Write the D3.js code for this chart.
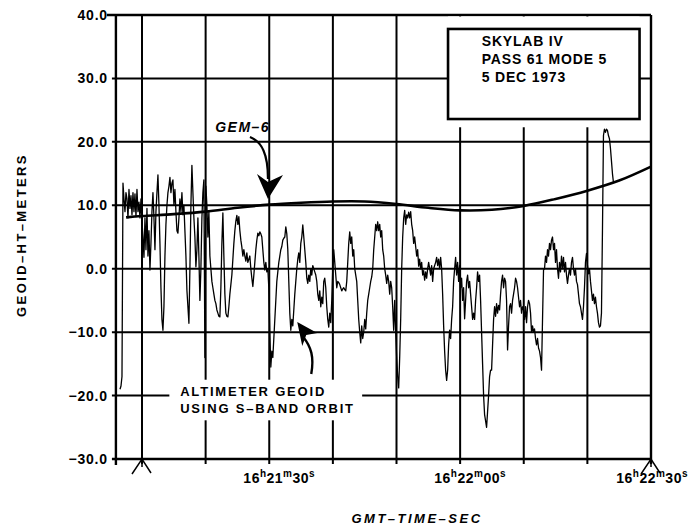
<!DOCTYPE html>
<html><head><meta charset="utf-8">
<script src="https://cdn.jsdelivr.net/npm/d3@7"></script>
<style>body{margin:0;background:#fff}svg{display:block}</style>
</head><body>
<svg id="c" width="692" height="529"></svg>
<script>
// ---------------- data ----------------
const yTicks = [40, 30, 20, 10, 0, -10, -20, -30];            // GEOID height, meters
const gridTimes = [10, 20, 30, 40, 50, 60, 70, 80, 90];        // seconds after 16h21m00s GMT
const labelTimes = [30, 60, 90];
const baseClock = [16, 21, 0];                                 // h, m, s
const timeStart = 5.9;                                         // left edge of plot (s after 16h21m00s)

const gemTimes  = [7.5, 10, 15, 20, 25, 30, 35, 40, 45, 50, 55, 60, 65, 70, 75, 80, 85, 90];
const gemValues = [8.1, 8.3, 8.6, 9.0, 9.6, 10.1, 10.4, 10.6, 10.6, 10.2, 9.6, 9.2, 9.3, 9.9, 11.0, 12.3, 13.9, 16.1];

const altStart = 6.54;     // s after 16h21m00s of first altimeter sample
const altStep = 0.157;     // s between samples
const altValues = [
-19,-18.5,-17,13.5,11,9,12,11,8,12.5,
9.5,11.5,8.5,12,9,11.8,8.2,12.5,9,10.5,
8,11,7.5,5,1.8,8,3,9.5,2,6,
-0.2,4,9,12,8,3,9,12,14.8,10,
4,-3,-8,-9.7,-6,2,7,10,12,13,
14.4,12,13.5,14,10,12.5,9,6,5.6,8,
11,9,12,8.5,10,6,2,-3.4,-6,-8.6,
0,10,16.3,12,8,5,0.3,3,8,2,
-5,0,8,12,14,-14,13,10,5,9,
2,0,-2,-3,-4,-5,-5.5,-6.5,-7,-7.5,
-7.6,-3,4,8.8,2,-4,-7,-7.5,-7.6,-6,
-4,-2.5,-1,1.5,4,6,7.5,8.4,7,8.2,
6,4.5,3.4,2,3,2,1.2,2.5,1,1.5,
2,0,-1.5,-2.8,-1,1,3,4.5,5.6,5.2,
5.8,5.5,5,3,1,-0.2,1,-0.5,0,-3,
-10,-15.5,-13,-14,-11,-8,-5,-2,-0.5,1,
2,3,3.5,4.5,4.8,5,6.6,5.5,3,-2,
-7,-9.7,-8,-9,-6.5,-4,-2,0,1.5,2.5,
1,4,5,6.9,5,3,1,-1.5,-2.3,-1,
-2,0,-1,0.5,0,-0.5,-1,-2,-4,-5,
-3.5,-6,-4.5,-5.5,-2,-1.5,-3,-6,-8,-9.2,
-7,-8.5,-5,0,3,1,-1,-3,-2,-2.2,
-2.5,-3,-3.5,-3.2,-3,-3.3,-3.5,-2,1,4,
5.8,4,5,2,3,0,-1,-2,-5,-8,
-10,-11.7,-9,-11,-10,-8,-9.5,-7,-5,-4,
-3,-2,-1.3,0,3,5,7,6,7.4,6,
7,5,6,3,2,0,-1,-2.3,-1,-2,
-4,-2,-3,-6,-9.7,-5,-10,-14,-17,-18.8,
-14,-8,0,5,8,9.2,7,8.5,8,8.9,
8,9,7,6,4,5,3.5,2,3,0.4,
1.5,0,1,-1,-0.3,-1.8,-0.5,-1.5,0,1,
0,-1,0.5,-2,0,0.5,1,1.8,0.5,1.5,
0,1.8,0,-4,-9,-13,-16,-17.6,-16,-12,
-9.7,-11,-8,-6,-2,0,1.8,-1,1,-2,
0.5,-3,-1.5,-5,-3,-7.9,-5,-2,-1,-3,
-2,-4,-6,-8,-7,-8,-5,-3,-0.5,-2,
-1,-5,-10,-15,-20,-23,-24,-25,-22.5,-20,
-17,-16,-16,-12,-8,-6,-7.5,-5.5,-7,-5.8,
-6.5,-4,-2,-1,-3,-1.5,-2,-5,-12.8,-9,
-6,-5.5,-7,-5,-4,-3,-1.5,-2,-3,-4.5,
-6,-5,-7,-6,-6.5,-8,-6,-8.5,-6,-5,
-5.5,-7,-10,-9,-10,-9.5,-11,-12,-11,-12.5,
-13,-14,-16,-8,-0.2,0,2,1,3,2,
4,3,4.5,5,3,4,1,3,0,-1.5,
1,-0.5,2,0,1.8,-0.5,1,-1,-2.3,-1,
0,-1,1,1.8,0,-1,0,-2,-2.5,-4,
-5.5,-6,-7,-8,-6,-3,1,2.4,0.5,-0.8,
0,-2,-3.5,-5,-4,-5.5,-4.5,-6,-7,-8.5,
-9.2,-9,-7,6,21,22,21.5,22,21.8,21,
20.5,19,17,15,13.6
];

const boxLines = ["SKYLAB IV", "PASS 61 MODE 5", "5 DEC 1973"];
const gemLabel = "GEM\u20136";
const altLabel = ["ALTIMETER GEOID", "USING S\u2013BAND ORBIT"];
const xTitle = "GMT\u2013TIME\u2013SEC";
const yTitle = "GEOID\u2013HT\u2013METERS";

// ---------------- drawing ----------------
const FONT = "'Liberation Sans', Arial, Helvetica, sans-serif";
const svg = d3.select("#c");
const x = d3.scaleLinear().domain([10, 90]).range([142, 651]);
const y = d3.scaleLinear().domain([-30, 40]).range([459, 15]);
const x0 = x(timeStart), x1 = x(90), yTop = y(40), yBot = y(-30);

const g = svg.append("g");
g.selectAll("line.h").data(yTicks).join("line")
  .attr("x1", d => d === 40 ? x0 - 9 : x0 - 4).attr("x2", x1)
  .attr("y1", d => y(d)).attr("y2", d => y(d))
  .attr("stroke", "#000").attr("stroke-width", d => (d === 40 || d === -30) ? 2.4 : 2);
g.selectAll("line.v").data(gridTimes).join("line")
  .attr("x1", d => x(d)).attr("x2", d => x(d))
  .attr("y1", yTop).attr("y2", yBot + 5)
  .attr("stroke", "#000").attr("stroke-width", d => d === 90 ? 2.4 : 2);
g.append("line").attr("x1", x0).attr("x2", x0).attr("y1", yTop).attr("y2", yBot + 6)
  .attr("stroke", "#000").attr("stroke-width", 2.4);

// white areas behind the info box and the altimeter label
const bx0 = x(58.1), bx1 = x(88.2), by0 = y(37.8), by1 = y(23.6);
svg.append("rect").attr("x", bx0).attr("y", yTop + 1.5).attr("width", bx1 - bx0).attr("height", y(22.3) - yTop - 1.5).attr("fill", "#fff");
svg.append("rect").attr("x", x(14.3)).attr("y", y(-17.5)).attr("width", x(44.6) - x(14.3)).attr("height", y(-23.9) - y(-17.5)).attr("fill", "#fff");

// GEM-6 model geoid
const gemData = gemTimes.map((t, i) => [t, gemValues[i]]);
svg.append("path").datum(gemData)
  .attr("d", d3.line().x(d => x(d[0])).y(d => y(d[1])).curve(d3.curveCatmullRom))
  .attr("fill", "none").attr("stroke", "#000").attr("stroke-width", 2.6);

// altimeter geoid
const altData = altValues.map((v, i) => [altStart + i * altStep, v]);
svg.append("path").datum(altData)
  .attr("d", d3.line().x(d => x(d[0])).y(d => y(d[1])))
  .attr("fill", "none").attr("stroke", "#000").attr("stroke-width", 1.3)
  .attr("stroke-linejoin", "round");

// info box
svg.append("rect").attr("x", bx0).attr("y", by0).attr("width", bx1 - bx0).attr("height", by1 - by0)
  .attr("fill", "none").attr("stroke", "#000").attr("stroke-width", 2.6);
svg.append("g").selectAll("text").data(boxLines).join("text")
  .attr("x", x(63.4)).attr("y", (d, i) => y(35.1) + i * 18)
  .attr("font-family", FONT).attr("font-weight", "bold").attr("font-size", 14)
  .attr("letter-spacing", 0.8).text(d => d);

// y tick labels
const fmt = d3.format(".1f");
svg.append("g").selectAll("text").data(yTicks).join("text")
  .attr("x", x0 - 8).attr("y", d => y(d)).attr("dy", "0.36em")
  .attr("text-anchor", "end").attr("font-family", FONT).attr("font-weight", "bold")
  .attr("font-size", 14).attr("letter-spacing", 0.8).text(d => fmt(d));

// x tick labels with superscript h m s
function clock(t) {
  const total = baseClock[0] * 3600 + baseClock[1] * 60 + baseClock[2] + t;
  const h = Math.floor(total / 3600), m = Math.floor((total % 3600) / 60), s = Math.round(total % 60);
  return [String(h), "h", String(m).padStart(2, "0"), "m", String(s).padStart(2, "0"), "s"];
}
labelTimes.forEach(t => {
  const parts = clock(t);
  const txt = svg.append("text").attr("y", yBot + 24)
    .attr("font-family", FONT).attr("font-weight", "bold").attr("font-size", 14).attr("letter-spacing", 0.5);
  parts.forEach((p, i) => {
    const sup = i % 2 === 1;
    txt.append("tspan").attr("font-size", sup ? 10 : 14)
      .attr("dy", sup ? -6 : (i === 0 ? 0 : 6)).text(p);
  });
  const w = txt.node().getComputedTextLength();
  const cx = Math.min(x(t) + 10, 688 - w / 2);
  txt.attr("x", cx - w / 2);
});

// axis break marks (inverted V) below the time axis
[10, 90].forEach(t => {
  const cx = x(t);
  svg.append("path").attr("d", `M${cx - 10},${yBot + 15} L${cx},${yBot} L${cx + 9},${yBot + 14} M${cx},${yBot} L${cx},${yBot + 8}`)
    .attr("fill", "none").attr("stroke", "#000").attr("stroke-width", 1.5);
});

// axis titles
svg.append("text").attr("x", 417).attr("y", 523).attr("text-anchor", "middle")
  .attr("font-family", FONT).attr("font-weight", "bold").attr("font-style", "italic")
  .attr("font-size", 13).attr("letter-spacing", 2.5).text(xTitle);
svg.append("text").attr("transform", "translate(26,235) rotate(-90)").attr("text-anchor", "middle")
  .attr("font-family", FONT).attr("font-weight", "bold")
  .attr("font-size", 13).attr("letter-spacing", 2.4).text(yTitle);

// GEM-6 annotation
svg.append("text").attr("x", x(21.5)).attr("y", y(21.5))
  .attr("font-family", FONT).attr("font-weight", "bold").attr("font-style", "italic")
  .attr("font-size", 14).attr("letter-spacing", 1.5).text(gemLabel);
{
  const tx = x(29.8), ty = y(11.0);
  svg.append("path").attr("d", `M${tx - 18},${ty - 62} C${tx - 6},${ty - 57} ${tx},${ty - 45} ${tx},${ty - 20}`)
    .attr("fill", "none").attr("stroke", "#000").attr("stroke-width", 2.2);
  svg.append("path").attr("d", `M${tx},${ty} L${tx - 11},${ty - 25} L${tx},${ty - 17} L${tx + 15},${ty - 24} Z`)
    .attr("fill", "#000");
}

// altimeter annotation
svg.append("g").selectAll("text").data(altLabel).join("text")
  .attr("x", x(16.0)).attr("y", (d, i) => y(-20.0) + i * 17)
  .attr("font-family", FONT).attr("font-weight", "bold")
  .attr("font-size", 13).attr("letter-spacing", 1.8).text(d => d);
{
  const tx = x(34.4), ty = y(-8.4);
  svg.append("path").attr("d", `M${tx + 14},${ty + 52} C${tx + 17},${ty + 35} ${tx + 14},${ty + 25} ${tx + 6},${ty + 15}`)
    .attr("fill", "none").attr("stroke", "#000").attr("stroke-width", 2.4);
  svg.append("path").attr("d", `M${tx},${ty} L${tx + 20},${ty + 11} L${tx + 9},${ty + 13} L${tx + 5},${ty + 24} Z`)
    .attr("fill", "#000");
}
</script>
</body></html>
